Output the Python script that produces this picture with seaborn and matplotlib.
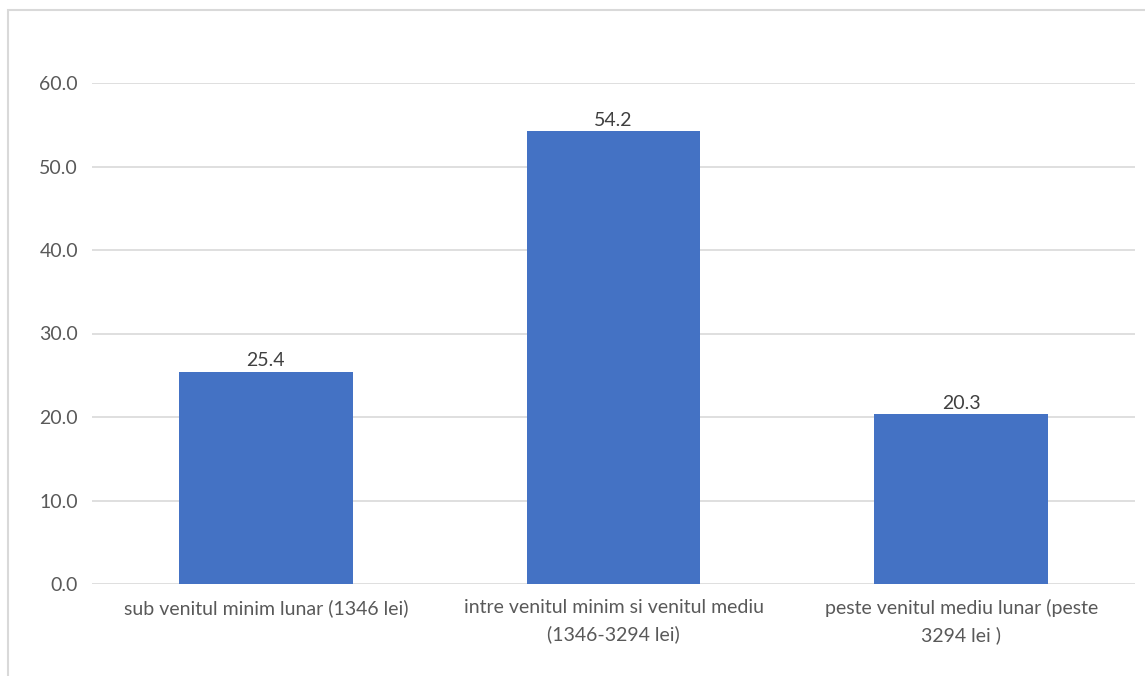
import matplotlib
matplotlib.use("Agg")
import matplotlib.pyplot as plt
import seaborn as sns
import pandas as pd
from matplotlib.patches import Rectangle

categories = [
    "sub venitul minim lunar (1346 lei)",
    "intre venitul minim si venitul mediu\n(1346-3294 lei)",
    "peste venitul mediu lunar (peste\n3294 lei )",
]
values = [25.4, 54.2, 20.3]
yticks = [0, 10, 20, 30, 40, 50, 60]

sns.set_theme(style="white")
plt.rcParams["font.family"] = ["Lato", "DejaVu Sans"]

df = pd.DataFrame({"cat": categories, "val": values})

fig = plt.figure(figsize=(11.45, 6.76), dpi=100)
ax = fig.add_axes([92/1145, 92/676, (1135-92)/1145, (584-83)/676])

sns.barplot(data=df, x="cat", y="val", color="#4472C4", width=0.5,
            saturation=1, ax=ax, zorder=3, linewidth=0)

ax.set_ylim(0, 60)
ax.set_xlim(-0.5, 2.5)
ax.set_yticks(yticks)
ax.set_yticklabels([f"{v:.1f}" for v in yticks])
ax.yaxis.grid(True, color="#D9D9D9", linewidth=1.2, zorder=0)
ax.set_axisbelow(True)
for s in ax.spines.values():
    s.set_visible(False)
ax.set_xlabel("")
ax.set_ylabel("")
ax.tick_params(axis="both", length=0, labelsize=14, colors="#595959")
ax.tick_params(axis="y", pad=10)
ax.tick_params(axis="x", pad=11)
for lbl in ax.get_xticklabels():
    lbl.set_linespacing(1.6)
ax.set_ylim(0, 60)

for c in ax.containers:
    ax.bar_label(c, labels=[f"{v:.1f}" for v in values], padding=2,
                 fontsize=14, color="#404040")

fig.patches.append(Rectangle((8/1145, -0.2), 1.2, 1.2 - 10/676, transform=fig.transFigure,
                             fill=False, edgecolor="#D9D9D9", linewidth=1.5))

fig.savefig("out.png", dpi=100)
